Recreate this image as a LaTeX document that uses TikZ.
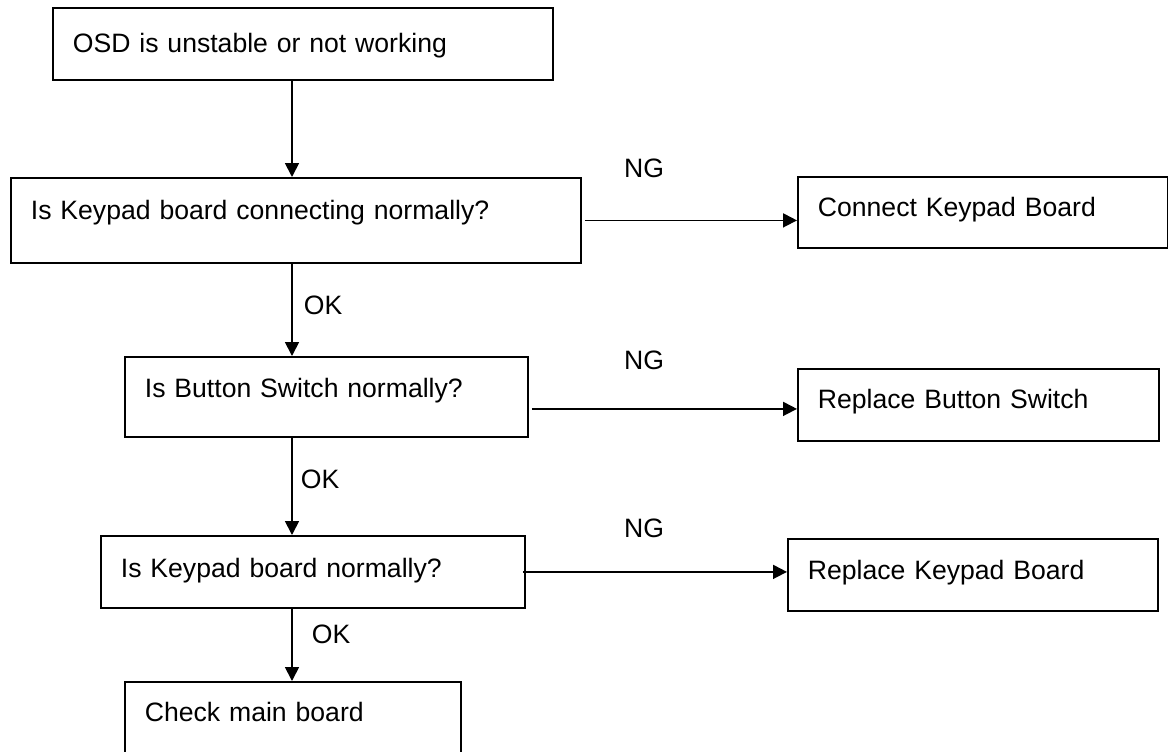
\documentclass[tikz,border=0pt]{standalone}
\usepackage{fontspec}
\setmainfont{Liberation Sans}
\usetikzlibrary{positioning,arrows.meta}

\begin{document}
\begin{tikzpicture}[x=0.5pt,y=-0.5pt,font=\fontsize{13.3}{16}\selectfont,
    box/.style={draw,line width=0.9pt,anchor=north west,align=left,inner xsep=10pt,inner ysep=0pt,text height=9.7pt,text depth=#1},
    box/.default=3pt,
    lbl/.style={inner sep=0pt},
    arr/.style={line width=0.9pt,-{Triangle[length=7pt,width=7pt]}}]
  \useasboundingbox (0,0) rectangle (1168,751);
  \clip (0,0) rectangle (1168,751);
  \coordinate (spine) at (292,0);
  \node[box=0.7pt,text width=230pt,minimum height=36pt] (osd) at (52,7) {OSD is unstable or not working};
  \node[box=10.2pt,text width=265pt,minimum height=42.5pt] (kpconn) at (10,177) {Is Keypad board connecting normally?};
  \node[box=8.7pt,text width=181.5pt,minimum height=40pt] (btnsw) at (124,356) {Is Button Switch normally?};
  \node[box=3.7pt,text width=192pt,minimum height=36pt] (kpbrd) at (100,535) {Is Keypad board normally?};
  \node[box=19.7pt,text width=148pt,minimum height=50pt] (mainbrd) at (124,681) {Check main board};
  \node[box=5.2pt,text width=165pt,minimum height=35.5pt] (fixconn) at (797,176) {Connect Keypad Board};
  \node[box=5.7pt,text width=160.5pt,minimum height=36pt] (fixbtn) at (797,368) {Replace Button Switch};
  \node[box=4.7pt,text width=165pt,minimum height=36pt] (fixkp) at (787,538) {Replace Keypad Board};
  \node[lbl] (ng1) at (644,168) {NG};
  \node[lbl] (ng2) at (644,360) {NG};
  \node[lbl] (ng3) at (644,528) {NG};
  \draw[arr] (osd.south -| spine) -- (kpconn.north -| spine);
  \draw[arr] (kpconn.south -| spine) -- node[lbl,pos=.45,right=5.5pt] (ok1) {OK} (btnsw.north -| spine);
  \draw[arr] (btnsw.south -| spine) -- node[lbl,pos=.43,right=4pt] (ok2) {OK} (kpbrd.north -| spine);
  \draw[arr] (kpbrd.south -| spine) -- node[lbl,pos=.35,right=9.5pt] (ok3) {OK} (mainbrd.north -| spine);
  \draw[arr] ([xshift=1.5pt]kpconn.east) -- (kpconn.east -| fixconn.west);
  \draw[arr] ([xshift=1.5pt,yshift=-6pt]btnsw.east) -- ([yshift=-6pt]btnsw.east -| fixbtn.west);
  \draw[arr] ([xshift=-1.5pt]kpbrd.east) -- (kpbrd.east -| fixkp.west);
\end{tikzpicture}
\end{document}
